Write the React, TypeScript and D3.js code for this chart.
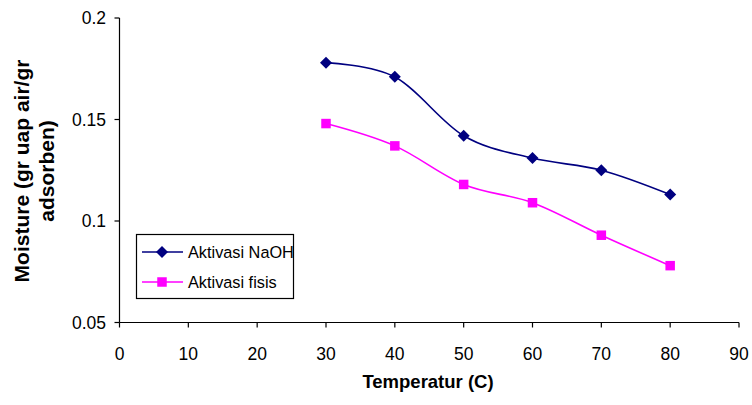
import React from "react";
import * as d3 from "d3";

const temperatures = [30, 40, 50, 60, 70, 80];
const naohMoisture = [0.178, 0.171, 0.142, 0.131, 0.125, 0.113];
const fisisMoisture = [0.148, 0.137, 0.118, 0.109, 0.093, 0.078];
const xTicks = [0, 10, 20, 30, 40, 50, 60, 70, 80, 90];
const yTicks = [0.05, 0.1, 0.15, 0.2];
const seriesNames = ["Aktivasi NaOH", "Aktivasi fisis"];
const seriesColors = ["#000080", "#FF00FF"];

const W = 752;
const H = 405;
const FONT = "'Liberation Sans', Arial, sans-serif";

const x = d3.scaleLinear().domain([0, 90]).range([119.5, 739]);
const y = d3.scaleLinear().domain([0.05, 0.2]).range([322.5, 18]);

const line = d3
  .line<[number, number]>()
  .x((d) => x(d[0]))
  .y((d) => y(d[1]))
  .curve(d3.curveCatmullRom.alpha(0));

function Diamond({ cx, cy, color }: { cx: number; cy: number; color: string }) {
  const r = 6;
  return (
    <path
      d={`M${cx},${cy - r}L${cx + r},${cy}L${cx},${cy + r}L${cx - r},${cy}Z`}
      fill={color}
    />
  );
}

function Square({ cx, cy, color }: { cx: number; cy: number; color: string }) {
  const s = 9.5;
  return <rect x={cx - s / 2} y={cy - s / 2} width={s} height={s} fill={color} />;
}

export default function App() {
  const series = [naohMoisture, fisisMoisture];
  const x0 = x.range()[0];
  const xEnd = x.range()[1];
  const yBase = y.range()[0];
  const yTop = y.range()[1];

  return (
    <svg
      width={W}
      height={H}
      style={{ position: "absolute", left: 0, top: 0, background: "#fff" }}
      fontFamily={FONT}
    >
      {/* axes */}
      <line x1={x0} x2={x0} y1={yTop} y2={yBase} stroke="#000" strokeWidth={1.2} />
      <line x1={x0} x2={xEnd} y1={yBase} y2={yBase} stroke="#000" strokeWidth={1.2} />
      {yTicks.map((t) => (
        <g key={`y${t}`}>
          <line x1={x0 - 5} x2={x0} y1={y(t)} y2={y(t)} stroke="#000" strokeWidth={1.2} />
          <text x={106} y={y(t) + 6} textAnchor="end" fontSize={17.5} fill="#000">
            {String(t)}
          </text>
        </g>
      ))}
      {xTicks.map((t) => (
        <g key={`x${t}`}>
          <line x1={x(t)} x2={x(t)} y1={yBase} y2={yBase + 5} stroke="#000" strokeWidth={1.2} />
          <text x={x(t)} y={360} textAnchor="middle" fontSize={17.5} fill="#000">
            {String(t)}
          </text>
        </g>
      ))}

      {/* titles */}
      <text x={428} y={388} textAnchor="middle" fontSize={18.5} fontWeight="bold" fill="#000">
        Temperatur (C)
      </text>
      <g transform="translate(29,171) rotate(-90)">
        <text x={0} y={0} textAnchor="middle" fontSize={21} fontWeight="bold" fill="#000">
          Moisture (gr uap air/gr
        </text>
        <text x={0} y={24.5} textAnchor="middle" fontSize={21} fontWeight="bold" fill="#000">
          adsorben)
        </text>
      </g>

      {/* series */}
      {series.map((vals, i) => {
        const pts = temperatures.map((t, j) => [t, vals[j]] as [number, number]);
        return (
          <g key={seriesNames[i]}>
            <path d={line(pts) ?? ""} fill="none" stroke={seriesColors[i]} strokeWidth={1.6} />
            {pts.map((p, j) =>
              i === 0 ? (
                <Diamond key={j} cx={x(p[0])} cy={y(p[1])} color={seriesColors[i]} />
              ) : (
                <Square key={j} cx={x(p[0])} cy={y(p[1])} color={seriesColors[i]} />
              )
            )}
          </g>
        );
      })}

      {/* legend */}
      <rect x={136.5} y={234.5} width={157} height={64} fill="#fff" stroke="#000" strokeWidth={1.2} />
      {seriesNames.map((name, i) => {
        const ly = 252 + i * 30;
        return (
          <g key={`lg${name}`}>
            <line x1={142} x2={183} y1={ly} y2={ly} stroke={seriesColors[i]} strokeWidth={1.6} />
            {i === 0 ? (
              <Diamond cx={162} cy={ly} color={seriesColors[i]} />
            ) : (
              <Square cx={162} cy={ly} color={seriesColors[i]} />
            )}
            <text x={188} y={ly + 6} fontSize={16.3} fill="#000">
              {name}
            </text>
          </g>
        );
      })}
    </svg>
  );
}
